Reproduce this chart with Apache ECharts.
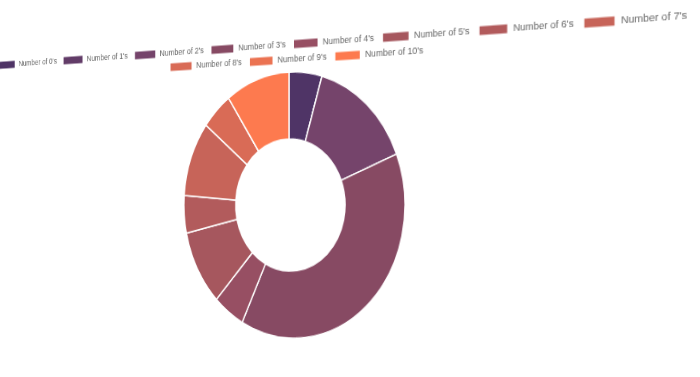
<!DOCTYPE html>
<html>
<head>
<meta charset="utf-8">
<script src="https://cdn.jsdelivr.net/npm/echarts@6/dist/echarts.min.js"></script>
<style>
html, body { margin: 0; padding: 0; width: 700px; height: 377px; overflow: hidden; background: #fff; }
#wrap { position: absolute; left: 0; top: 0; width: 700px; height: 377px; overflow: hidden; }
#chart {
  position: absolute; left: -211px; top: 25px; width: 1000px; height: 380px;
  transform-origin: 500px 180px;
  transform: perspective(1500px) rotateY(-34deg);
}
</style>
</head>
<body>
<div id="wrap"><div id="chart"></div></div>
<script>
const categories = ["Number of 0's", "Number of 1's", "Number of 2's", "Number of 3's", "Number of 4's",
  "Number of 5's", "Number of 6's", "Number of 7's", "Number of 8's", "Number of 9's", "Number of 10's"];
const values = [1, 0, 3, 8, 1, 2, 1, 2, 1, 0, 2];
const colors = ['#4f3466', '#623c68', '#75446b', '#874a63', '#974f63', '#a6575e',
  '#b25b5c', '#c76459', '#d96b56', '#eb7352', '#fd7a4f'];

const chart = echarts.init(document.getElementById('chart'), null, { renderer: 'svg' });
const legendCommon = {
  left: 'center', orient: 'horizontal', icon: 'rect', itemWidth: 30, itemHeight: 10, itemGap: 8,
  selectedMode: false,
  textStyle: { fontFamily: 'Liberation Sans, Arial, sans-serif', fontSize: 9.5, color: '#666' }
};
chart.setOption({
  animation: false,
  color: colors,
  legend: [
    Object.assign({}, legendCommon, { top: 8.5, data: categories.slice(0, 8) }),
    Object.assign({}, legendCommon, { top: 23.5, data: categories.slice(8) })
  ],
  series: [{
    type: 'pie',
    center: [500, 180],
    radius: [66, 133],
    startAngle: 90,
    clockwise: true,
    label: { show: false },
    labelLine: { show: false },
    emphasis: { disabled: true },
    itemStyle: { borderColor: '#fff', borderWidth: 1.5 },
    data: categories.map((c, i) => ({ name: c, value: values[i], itemStyle: { color: colors[i] } }))
  }]
});
</script>
</body>
</html>
